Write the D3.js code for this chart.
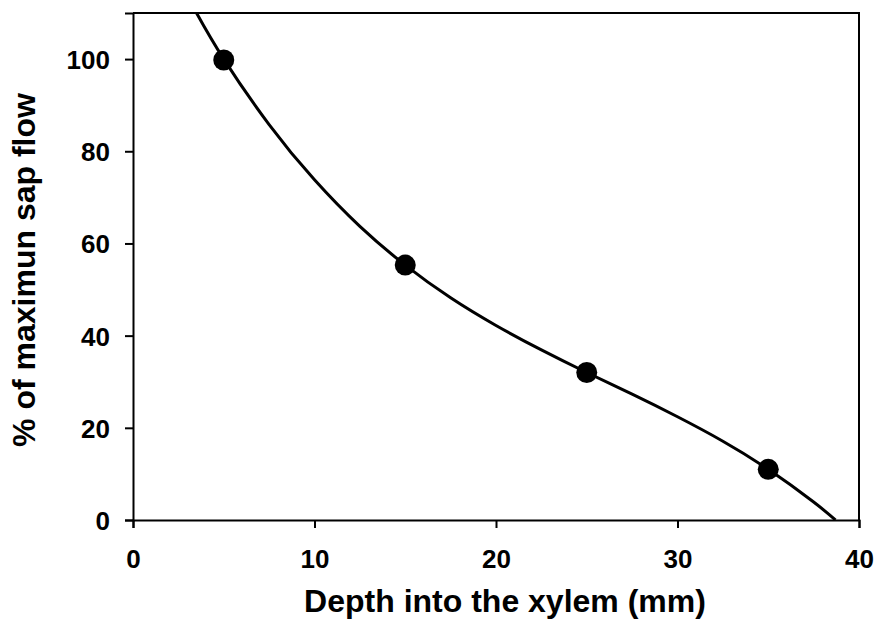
<!doctype html>
<html lang="en">
<head>
	<meta charset="utf-8">
	<title>Sap flow vs depth</title>
	<style>
		body { margin: 0; background: #fff; }
		svg text { font-family: "Liberation Sans", Arial, sans-serif; font-weight: bold; fill: #000; }
	</style>
</head>
<body>
	<svg id="Chart" width="877" height="628"></svg>

	<script src="https://cdn.jsdelivr.net/npm/d3@7/dist/d3.min.js"></script>
	<script>
		(function () {
			"use strict"

			// measured points
			var depth = [5, 15, 25, 35],
				sapFlow = [99.8, 55.3, 32, 11];

			// fitted curve
			var curveDepth = [3.5, 5, 7.5, 10, 12.5, 15, 17.5, 20, 22.5, 25, 27.5, 30, 32.5, 35, 37.5, 38.7],
				curveFlow = [110, 100, 85.8, 73.8, 63.7, 55.3, 48.2, 42.2, 36.9, 32, 27.3, 22.4, 17.1, 11, 3.9, 0];

			var xTicks = [0, 10, 20, 30, 40],
				yTicks = [0, 20, 40, 60, 80, 100];

			var svg = d3.select("#Chart");
			var margin = { left: 133, right: 18, top: 13, bottom: 108 },
				width = 877 - margin.left - margin.right,
				height = 628 - margin.top - margin.bottom;

			var x = d3.scaleLinear([0, 40], [margin.left, margin.left + width]),
				y = d3.scaleLinear([0, 110], [margin.top + height, margin.top]);

			// frame (top and right)
			svg.append("path")
				.attr("d", "M" + x(0) + "," + y(110) + "H" + x(40) + "V" + y(0))
				.attr("fill", "none")
				.attr("stroke", "#000")
				.attr("stroke-width", 2);

			var xAxis = svg.append("g")
				.attr("transform", "translate(0," + y(0) + ")")
				.call(d3.axisBottom(x).tickValues(xTicks).tickSize(8));

			var yAxis = svg.append("g")
				.attr("transform", "translate(" + x(0) + ",0)")
				.call(d3.axisLeft(y).tickValues(yTicks).tickSize(8).tickPadding(15));

			[xAxis, yAxis].forEach(function (g) {
				g.attr("font-family", null).attr("font-size", null);
				g.select(".domain").attr("stroke-width", 2);
				g.selectAll(".tick line").attr("stroke-width", 2);
				g.selectAll(".tick text").style("font-size", "26px");
			});
			yAxis.selectAll(".tick text").attr("dy", "0.36em");
			xAxis.selectAll(".tick text").attr("y", 48).attr("dy", 0);

			// fitted line
			svg.append("path")
				.datum(d3.zip(curveDepth, curveFlow))
				.attr("fill", "none")
				.attr("stroke", "#000")
				.attr("stroke-width", 3)
				.attr("d", d3.line()
					.x(function (d) { return x(d[0]); })
					.y(function (d) { return y(d[1]); })
					.curve(d3.curveNatural));

			svg.append("g")
				.selectAll("circle")
				.data(d3.zip(depth, sapFlow))
				.join("circle")
					.attr("cx", function (d) { return x(d[0]); })
					.attr("cy", function (d) { return y(d[1]); })
					.attr("r", 10.5)
					.attr("fill", "#000");

			// axis titles
			svg.append("text")
				.attr("x", 505)
				.attr("y", 612)
				.attr("text-anchor", "middle")
				.style("font-size", "32px")
				.text("Depth into the xylem (mm)");

			svg.append("text")
				.attr("transform", "translate(35,270) rotate(-90)")
				.attr("text-anchor", "middle")
				.style("font-size", "32px")
				.text("% of maximun sap flow");
		})();
	</script>
</body>
</html>
